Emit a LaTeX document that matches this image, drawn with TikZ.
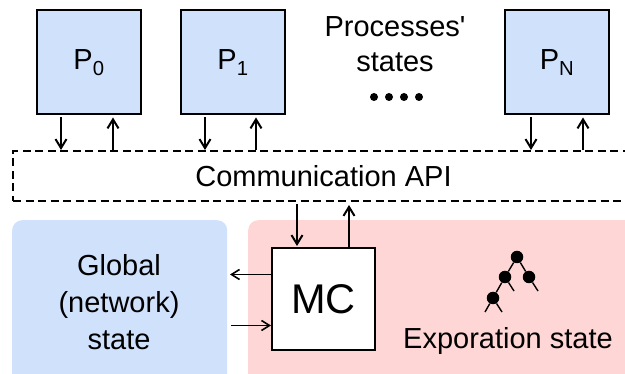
\documentclass[tikz,border=0pt]{standalone}
\usepackage{fontspec}
\setmainfont{Liberation Sans}
\newfontfamily\plainf{Liberation Sans}
\usetikzlibrary{arrows.meta,calc}
\definecolor{bluefill}{HTML}{D0E1FC}
\definecolor{redfill}{HTML}{FFD6D6}
\tikzset{
  px/.style={x=1pt,y=-1pt},
  proc/.style={draw=black,line width=2pt,fill=bluefill,minimum width=104pt,minimum height=104pt,inner sep=0pt,anchor=north west,font=\fontsize{29}{32}\selectfont},
  panel/.style={rounded corners=10pt,inner sep=0pt,anchor=north west},
  api/.style={draw=black,line width=2pt,dash pattern=on 8pt off 4.5pt,minimum width=640pt,minimum height=50pt,inner sep=0pt,anchor=north west},
  lbl/.style={font=\fontsize{29}{37}\selectfont,align=center,inner sep=0pt},
  arr/.style={draw=black,line width=2pt,-{Straight Barb[length=9pt,width=11pt,line width=2pt]}},
  thinarr/.style={draw=black,line width=1.6pt,-{Straight Barb[length=8pt,width=10pt,line width=1.6pt]}},
  treenode/.style={circle,fill=black,minimum size=12.5pt,inner sep=0pt},
  twig/.style={draw=black,line width=1.4pt},
  dotn/.style={circle,fill=black,minimum size=8pt,inner sep=0pt}
}
\begin{document}
\begin{tikzpicture}[px]
\useasboundingbox (0,0) rectangle (625,374);
\clip (0,0) rectangle (625,374);
\node[panel,fill=bluefill,minimum width=215pt,minimum height=170pt] (glob) at (12,220) {};
\node[panel,fill=redfill,minimum width=400pt,minimum height=170pt] (expl) at (248,220) {};
\node[proc] (p0) at (36,9.5) {P\textsubscript{0}};
\node[proc] (p1) at (180,9.5) {P\textsubscript{1}};
\node[proc] (pn) at (504,9.5) {P\textsubscript{N}};
\node[api] (apibox) at (12,150) {};
\node[lbl] (apilbl) at (323.5,176) {Communication API};
\node[lbl,font=\fontsize{29}{35}\selectfont] (pst) at (395,44) {Processes{\plainf '}\\states};
\node[lbl] (gst) at (119,302.5) {Global\\(network)\\state};
\node[lbl] (est) at (508,341) {Exporation state};
\node[draw=black,line width=2pt,fill=white,minimum width=103pt,minimum height=102pt,inner sep=0pt,anchor=north west,font=\fontsize{41.5}{48}\selectfont] (mc) at (271,247) {MC};
\node[dotn] (d1) at (374,97) {};
\node[dotn] (d2) at (389,97) {};
\node[dotn] (d3) at (404,97) {};
\node[dotn] (d4) at (419,97) {};
% process arrows
\foreach \n/\a/\b in {p0/25/77,p1/25/76,pn/27/79}{
  \draw[arr] ([xshift=\a pt,yshift=-2pt]\n.south west) -- ([xshift=\a pt]\n.south west |- apibox.north);
  \draw[arr] ([xshift=\b pt]\n.south west |- apibox.north) -- ([xshift=\b pt,yshift=-2pt]\n.south west);
}
% MC arrows
\draw[arr] ([xshift=26pt]mc.north west |- apibox.south) ++(0,2) -- ([xshift=26pt,yshift=1pt]mc.north west);
\draw[arr] ([xshift=78pt]mc.north west) -- ([xshift=78pt,yshift=-3pt]mc.north west |- apibox.south);
\draw[thinarr] ([yshift=24.5pt]mc.west) -- ([yshift=24.5pt,xshift=-41pt]mc.west);
\draw[thinarr] ([yshift=-26.5pt,xshift=-40pt]mc.west) -- ([yshift=-26.5pt]mc.west);
% tree
\node[treenode] (t0) at (517,257) {};
\node[treenode] (t1) at (505,277) {};
\node[treenode] (t2) at (529,277) {};
\node[treenode] (t3) at (493,298) {};
\coordinate (e1) at (514,291);
\coordinate (e2) at (538,291);
\coordinate (e3) at (485,312);
\coordinate (e4) at (502,312);
\draw[twig] (t0) -- (t1);
\draw[twig] (t0) -- (t2);
\draw[twig] (t1) -- (t3);
\draw[twig] (t1) -- (e1);
\draw[twig] (t2) -- (e2);
\draw[twig] (t3) -- (e3);
\draw[twig] (t3) -- (e4);
\end{tikzpicture}
\end{document}
